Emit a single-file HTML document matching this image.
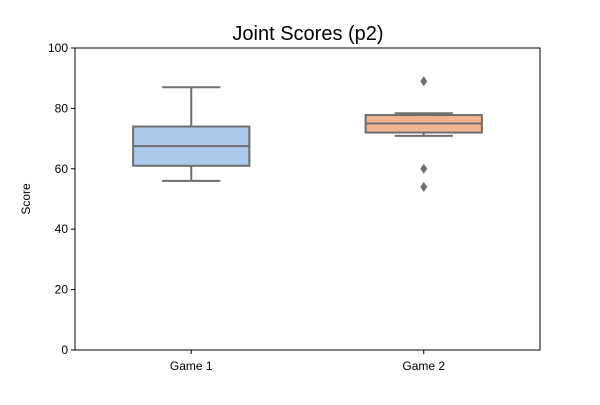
<!DOCTYPE html>
<html><head><meta charset="utf-8"><style>
body{margin:0;background:#fff;font-family:"Liberation Sans","DejaVu Sans",sans-serif;}
</style></head><body>
<svg width="600" height="400" xmlns="http://www.w3.org/2000/svg">
<rect width="600" height="400" fill="#fff"/>
<text x="308" y="40" font-size="20" text-anchor="middle">Joint Scores (p2)</text>
<g id="plot"></g>
<rect x="75" y="48" width="465" height="302" fill="none" stroke="#000" stroke-width="1"/>
<text x="0" y="0" transform="translate(30,199) rotate(-90)" font-size="12" text-anchor="middle">Score</text>
</svg>
<script>
const categories=["Game 1","Game 2"];
const q1=[61,72];
const medians=[67.5,75];
const q3=[74,77.8];
const whiskLo=[56,70.9];
const whiskHi=[87,78.4];
const outliers=[[],[89,60,54]];
const yTicks=[0,20,40,60,80,100];
const colors=["#abc9ea","#f1b68f"];
const L=75,R=540,T=48,B=350;
const y=v=>B-(v/100)*(B-T);
const band=(R-L)/categories.length;
const xc=i=>L+band*(i+0.5);
const g=document.getElementById('plot');
const NS="http://www.w3.org/2000/svg";
function mk(t,a){const e=document.createElementNS(NS,t);for(const k in a)e.setAttribute(k,a[k]);g.appendChild(e);return e;}
yTicks.forEach(v=>{
 const t=mk('line',{x1:L-4,x2:L,y1:y(v),y2:y(v),stroke:'#000'});
 
 
 const l=mk('text',{x:L-7,y:y(v)+4,'font-size':12,'text-anchor':'end'});l.textContent=v;
 
 
});
categories.forEach((c,i)=>{
 const cx=xc(i),bw=band*0.5,cw=bw*0.5,st='#6e6e6e';
 const t=mk('line',{x1:cx,x2:cx,y1:B,y2:B+4,stroke:'#000'});
 
 
 const l=mk('text',{x:cx,y:B+20,'font-size':12,'text-anchor':'middle'});l.textContent=c;
 
 
 const w1=mk('line',{x1:cx,x2:cx,y1:y(q3[i]),y2:y(whiskHi[i]),stroke:st,'stroke-width':2});
 
 
 const w2=mk('line',{x1:cx,x2:cx,y1:y(q1[i]),y2:y(whiskLo[i]),stroke:st,'stroke-width':2});
 
 
 const c1=mk('line',{x1:cx-cw/2,x2:cx+cw/2,y1:y(whiskHi[i]),y2:y(whiskHi[i]),stroke:st,'stroke-width':2});
 
 
 const c2=mk('line',{x1:cx-cw/2,x2:cx+cw/2,y1:y(whiskLo[i]),y2:y(whiskLo[i]),stroke:st,'stroke-width':2});
 
 
 const b=mk('rect',{x:cx-bw/2,y:y(q3[i]),width:bw,height:y(q1[i])-y(q3[i]),fill:colors[i],stroke:st,'stroke-width':2});
 
 
 const m=mk('line',{x1:cx-bw/2,x2:cx+bw/2,y1:y(medians[i]),y2:y(medians[i]),stroke:st,'stroke-width':2});
 
 
 outliers[i].forEach(v=>{
  const yy=y(v);
  const o=mk('polygon',{points:`${cx},${yy-5} ${cx+3.5},${yy} ${cx},${yy+5} ${cx-3.5},${yy}`,fill:st});
  
  
 });
});
</script>
</body></html>
